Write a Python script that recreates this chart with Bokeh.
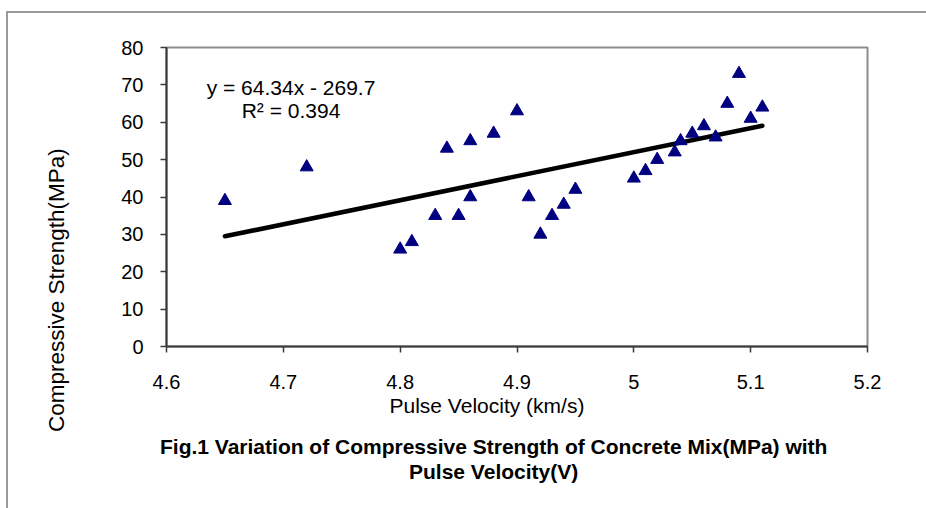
from bokeh.plotting import figure
from bokeh.models import FixedTicker, Label, Range1d, Title
from bokeh.embed import file_html
from bokeh.resources import INLINE

# ---- data ----
velocity = [4.65, 4.72, 4.80, 4.81, 4.83, 4.84, 4.85, 4.86, 4.86, 4.88,
            4.90, 4.91, 4.92, 4.93, 4.94, 4.95, 5.00, 5.01, 5.02, 5.035,
            5.04, 5.05, 5.06, 5.07, 5.08, 5.09, 5.10, 5.11]
strength = [39, 48, 26, 28, 35, 53, 35, 55, 40, 57,
            63, 40, 30, 35, 38, 42, 45, 47, 50, 52,
            55, 57, 59, 56, 65, 73, 61, 64]
slope = 64.34
intercept = -269.7
r_squared = 0.394
x_ticks = [4.6, 4.7, 4.8, 4.9, 5.0, 5.1, 5.2]
x_tick_labels = ["4.6", "4.7", "4.8", "4.9", "5", "5.1", "5.2"]
y_ticks = [0, 10, 20, 30, 40, 50, 60, 70, 80]
x_title = "Pulse Velocity (km/s)"
y_title = "Compressive Strength(MPa)"
caption_1 = "Fig.1 Variation of Compressive Strength of Concrete Mix(MPa) with"
caption_2 = "Pulse Velocity(V)"

FONT = "Liberation Sans"

# grey panel border (top and left) painted as the figure's CSS background,
# visible through the transparent border area of the canvas
panel_border = ("linear-gradient(#9a9a9a, #9a9a9a) 6px 11px / 2px 600px no-repeat, "
                "linear-gradient(#9a9a9a, #9a9a9a) 6px 11px / 920px 2px no-repeat, "
                "#ffffff")

p = figure(width=926, height=508, output_backend="svg", toolbar_location=None,
           x_range=Range1d(4.6, 5.2), y_range=Range1d(0, 80),
           min_border_left=166, min_border_right=59,
           min_border_top=47, min_border_bottom=162,
           styles={"background": panel_border})

p.background_fill_color = "white"
p.border_fill_color = None
p.outline_line_color = "#8c8c8c"
p.outline_line_width = 2
p.xgrid.visible = False
p.ygrid.visible = False

for ax in (p.xaxis[0], p.yaxis[0]):
    ax.axis_line_color = "#3a3a3a"
    ax.axis_line_width = 2
    ax.major_tick_line_color = "#3a3a3a"
    ax.major_tick_line_width = 1.5
    ax.major_tick_in = 0
    ax.major_tick_out = 6
    ax.minor_tick_line_color = None
    ax.major_label_text_font = FONT
    ax.major_label_text_font_size = "20px"
    ax.major_label_text_color = "black"

p.xaxis.ticker = FixedTicker(ticks=x_ticks)
p.xaxis.major_label_overrides = {t: l for t, l in zip(x_ticks, x_tick_labels)}
p.xaxis.major_label_standoff = 22
p.yaxis.ticker = FixedTicker(ticks=y_ticks)
p.yaxis.major_label_standoff = 17

# trend line
x_fit = [min(velocity), max(velocity)]
y_fit = [slope * v + intercept for v in x_fit]
p.line(x_fit, y_fit, line_color="black", line_width=4.5, line_cap="round")

# data points
p.scatter(velocity, strength, marker="triangle", size=13,
          fill_color="#000080", line_color="#000080")

# equation
p.add_layout(Label(x=124.5, y=259.5, x_units="screen", y_units="screen",
                   text=f"y = {slope}x - {abs(intercept)}", text_align="center",
                   text_baseline="alphabetic", text_font=FONT,
                   text_font_size="21px", text_color="black"))
p.add_layout(Label(x=124.5, y=236, x_units="screen", y_units="screen",
                   text=f"R\u00b2 = {r_squared}", text_align="center",
                   text_baseline="alphabetic", text_font=FONT,
                   text_font_size="21px", text_color="black"))

# titles outside the frame (below: x title, spacer, two caption lines)
p.add_layout(Title(text=x_title, align="left", offset=223, standoff=0,
                   text_font=FONT, text_font_size="21px",
                   text_font_style="normal", text_color="black"), "below")
p.add_layout(Title(text=" ", align="left", standoff=15,
                   text_font_size="1px"), "below")
p.add_layout(Title(text=caption_1, align="left", offset=-6.5, standoff=0,
                   vertical_align="top", text_line_height=0.92,
                   text_font=FONT, text_font_size="21px",
                   text_font_style="bold", text_color="black"), "below")
p.add_layout(Title(text=caption_2, align="left", offset=242.5, standoff=0,
                   vertical_align="top",
                   text_font=FONT, text_font_size="21px",
                   text_font_style="bold", text_color="black"), "below")

# left: spacer then y title
p.add_layout(Title(text=" ", align="left", standoff=47,
                   text_font_size="1px"), "left")
p.add_layout(Title(text=y_title, align="left", offset=-85.5, standoff=0,
                   text_font=FONT, text_font_size="22.5px",
                   text_font_style="normal", text_color="black"), "left")

open("out.html", "w").write(file_html(p, INLINE))
